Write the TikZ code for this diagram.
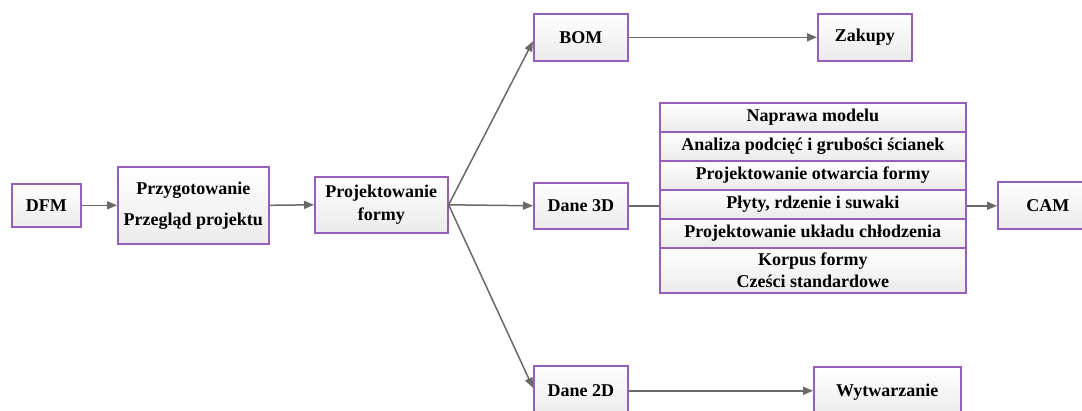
\documentclass[tikz,border=0pt]{standalone}
\usepackage{fontspec}
\setmainfont{Liberation Serif}
\usetikzlibrary{arrows.meta,calc}
\definecolor{boxpurple}{RGB}{150,95,185}
\definecolor{arrgray}{RGB}{105,105,105}
\tikzset{
  box/.style={draw=boxpurple, line width=1.6pt, top color=white, bottom color=black!8,
    inner sep=0pt, anchor=north west, align=center, text=black,
    font=\bfseries\fontsize{18}{23}\selectfont},
  rowbox/.style={box, minimum width=306pt, minimum height=29pt},
  arr/.style={draw=arrgray, line width=1.5pt, -{Triangle[length=10pt,width=8pt]}},
  link/.style={draw=arrgray, line width=1.5pt}
}
\begin{document}
\begin{tikzpicture}[x=1pt,y=-1pt]
\useasboundingbox (0,0) rectangle (1082,411);
\clip (0,0) rectangle (1082,411);
\fill[white] (0,0) rectangle (1082,411);
\node[box, minimum width=69pt, minimum height=43pt] (dfm) at (11,183) {DFM};
\node[box, minimum width=151pt, minimum height=77pt, font=\bfseries\fontsize{18}{31}\selectfont] (prep) at (117,166) {Przygotowanie\\Przegląd projektu};
\node[box, minimum width=133pt, minimum height=56pt] (proj) at (314,176) {Projektowanie\\formy};
\node[box, minimum width=94pt, minimum height=47pt] (bom) at (533,13) {BOM};
\node[box, minimum width=94pt, minimum height=47pt] (zak) at (817,13) {Zakupy};
\node[box, minimum width=94pt, minimum height=46pt] (d3) at (533,182) {Dane 3D};
\node[box, minimum width=94pt, minimum height=50pt] (d2) at (533,365) {Dane 2D};
\node[box, minimum width=147pt, minimum height=50pt] (wyt) at (813,366) {Wytwarzanie};
\node[box, minimum width=100pt, minimum height=47pt] (cam) at (997,181) {CAM};
\node[rowbox] (r1) at (659,102) {Naprawa modelu};
\node[rowbox] (r2) at (659,131) {Analiza podcięć i grubości ścianek};
\node[rowbox] (r3) at (659,160) {Projektowanie otwarcia formy};
\node[rowbox] (r4) at (659,189) {Płyty, rdzenie i suwaki};
\node[rowbox] (r5) at (659,218) {Projektowanie układu chłodzenia};
\node[rowbox, minimum height=45pt, font=\bfseries\fontsize{18}{22}\selectfont] (r6) at (659,247) {Korpus formy\\Cześci standardowe};
\draw[arr] (dfm.east) -- (prep.west);
\draw[arr] (prep.east) -- (proj.west);
\draw[arr] (proj.east) -- ($(bom.west)+(0,4)$);
\draw[arr] (proj.east) -- (d3.west);
\draw[arr] (proj.east) -- ($(d2.west)+(0,-3)$);
\draw[arr] (bom.east) -- (zak.west);
\draw[arr] (d2.east) -- ($(wyt.west)+(0,-1)$);
\draw[link] (d3.east) -- (d3.east -| r4.west);
\draw[arr] (d3.east -| r4.east) -- (d3.east -| cam.west);
\end{tikzpicture}
\end{document}
